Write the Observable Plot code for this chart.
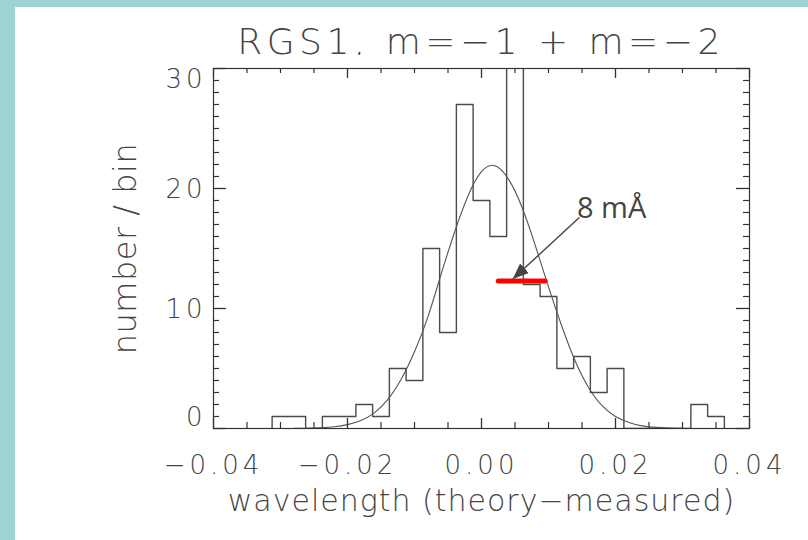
<!DOCTYPE html>
<html><head><meta charset="utf-8">
<script src="https://cdn.jsdelivr.net/npm/d3@7"></script>
<script src="https://cdn.jsdelivr.net/npm/@observablehq/plot@0.6"></script>
<style>
html,body{margin:0;padding:0;}
body{width:808px;height:540px;background:#9fd3d4;position:relative;overflow:hidden;}
#panel{position:absolute;left:15px;top:7px;width:793px;height:533px;background:#fff;}
#title{position:absolute;left:66px;width:800px;top:17px;text-align:center;font-family:"DejaVu Sans";font-weight:200;font-size:36px;letter-spacing:4.5px;color:#444;line-height:36px;white-space:nowrap;}
#chart{position:absolute;left:0;top:48px;}
</style></head><body>
<div id="panel"><div id="title"></div><div id="chart"></div></div>
<script>
// ---- data ----
const title = "RGS1, m=\u22121 + m=\u22122";
const xLabel = "wavelength (theory\u2212measured)";
const yLabel = "number / bin";

const binWidth = 0.0025;
const binCenters = [-0.0300,-0.0275,-0.0250,-0.0225,-0.0200,-0.0175,-0.0150,-0.0125,-0.0100,-0.0075,-0.0050,-0.0025,
  0.0000,0.0025,0.0050,0.0075,0.0100,0.0125,0.0150,0.0175,0.0200,0.0225,0.0250,0.0275,0.0300,0.0325,0.0350];
const binCounts = [1,1,0,1,1,2,1,5,4,15,8,27,19,16,31,12,11,5,6,3,5,0,0,0,0,2,1];

const curveX = [-0.028,-0.026,-0.024,-0.022,-0.020,-0.018,-0.016,-0.014,-0.012,-0.010,-0.008,-0.006,-0.004,-0.002,
  0.000,0.002,0.004,0.006,0.008,0.010,0.012,0.014,0.016,0.018,0.020,0.022,0.024,0.026,0.028,0.030];
const curveY = [0.01,0.02,0.06,0.14,0.32,0.66,1.3,2.4,4.1,6.4,9.3,12.9,16.4,19.4,
  21.4,21.9,20.8,18.5,15.3,11.8,8.5,5.6,3.4,1.9,1.0,0.5,0.22,0.09,0.04,0.01];

const xTicks = [-0.04,-0.02,0,0.02,0.04];
const xTickLabels = ["\u22120.04","\u22120.02","0.00","0.02","0.04"];
const xMinorTicks = [-0.035,-0.03,-0.025,-0.015,-0.01,-0.005,0.005,0.01,0.015,0.025,0.03,0.035];
const yTicks = [0,10,20,30];
const yTickLabels = ["0","10","20","30"];
const yMinorTicks = [1,2,3,4,5,6,7,8,9,11,12,13,14,15,16,17,18,19,21,22,23,24,25,26,27,28,29];

const widthBarX = [0.0025, 0.0095];
const widthBarY = [12.3];
const annotationText = ["8 m\u00C5"];
const annotationX = [0.01425];
const annotationY = [17.56];
const arrowX = [0.0146, 0.00466];
const arrowY = [17.58, 12.45];

// ---- derived tables ----
const steps = [{x: binCenters[0] - binWidth / 2, y: 0}];
binCenters.forEach((c, i) => steps.push({x: c - binWidth / 2, y: binCounts[i]}));
steps.push({x: binCenters[binCenters.length - 1] + binWidth / 2, y: 0});
const curve = curveX.map((x, i) => ({x, y: curveY[i]}));
const bar = [{x1: widthBarX[0], x2: widthBarX[1], y: widthBarY[0]}];
const arrow = [{x1: arrowX[0], y1: arrowY[0], x2: arrowX[1], y2: arrowY[1]}];
const note = [{x: annotationX[0], y: annotationY[0], t: annotationText[0]}];

const W = 793, H = 485, mT = 13, mB = 112, mL = 198, mR = 59;
const fw = W - mL - mR, fh = H - mT - mB;
const ink = "#333";
const yFmt = d => yTickLabels[yTicks.indexOf(d)];
const xFmt = d => xTickLabels[xTicks.indexOf(d)];

document.getElementById("title").textContent = title;

const chart = Plot.plot({
  width: W, height: H,
  marginTop: mT, marginBottom: mB, marginLeft: mL, marginRight: mR,
  style: {fontFamily: "DejaVu Sans", fontSize: "26px", fontWeight: 200, letterSpacing: "4px", color: "#444", background: "white"},
  x: {domain: [-0.04, 0.04], label: null},
  y: {domain: [0, 30], label: null},
  marks: [
    Plot.line(steps, {x: "x", y: "y", curve: "step-after", stroke: "#4a4a4a", strokeWidth: 1.4, clip: true}),
    Plot.line(curve, {x: "x", y: "y", curve: "natural", stroke: "#555", strokeWidth: 1.1, clip: true}),
    Plot.frame({stroke: ink, strokeWidth: 1.2}),
    // inward ticks on four sides
    Plot.tickX(xTicks, {x: d => d, insetTop: fh - 10, stroke: ink, strokeWidth: 1.3}),
    Plot.tickX(xMinorTicks, {x: d => d, insetTop: fh - 6, stroke: ink, strokeWidth: 1.2}),
    Plot.tickX(xTicks, {x: d => d, insetBottom: fh - 10, stroke: ink, strokeWidth: 1.3}),
    Plot.tickX(xMinorTicks, {x: d => d, insetBottom: fh - 5, stroke: ink, strokeWidth: 1.2}),
    Plot.tickY(yTicks, {y: d => d, insetRight: fw - 13, stroke: ink, strokeWidth: 1.3}),
    Plot.tickY(yMinorTicks, {y: d => d, insetRight: fw - 6, stroke: ink, strokeWidth: 1.2}),
    Plot.tickY(yTicks, {y: d => d, insetLeft: fw - 13, stroke: ink, strokeWidth: 1.3}),
    Plot.tickY(yMinorTicks, {y: d => d, insetLeft: fw - 6, stroke: ink, strokeWidth: 1.2}),
    // tick labels
    Plot.axisX(xTicks, {anchor: "bottom", tickSize: 0, tickPadding: 27, tickFormat: xFmt, fill: "#444"}),
    Plot.axisY([0], {anchor: "left", tickSize: 0, tickPadding: 7, dy: -11, tickFormat: yFmt, fill: "#444"}),
    Plot.axisY([10, 20], {anchor: "left", tickSize: 0, tickPadding: 7, dy: 1, tickFormat: yFmt, fill: "#444"}),
    Plot.axisY([30], {anchor: "left", tickSize: 0, tickPadding: 7, dy: 11, tickFormat: yFmt, fill: "#444"}),
    // axis titles
    Plot.text([xLabel], {frameAnchor: "bottom", lineAnchor: "bottom", textAnchor: "middle", dy: 82, fontSize: 30, fill: "#444"}),
    Plot.text([yLabel], {frameAnchor: "left", lineAnchor: "bottom", textAnchor: "middle", rotate: -90, dx: -78, fontSize: 32, fill: "#444"}),
    // annotation
    Plot.link(bar, {x1: "x1", x2: "x2", y1: "y", y2: "y", stroke: "#f00", strokeWidth: 5, strokeLinecap: "round"}),
    Plot.link(arrow, {x1: "x1", y1: "y1", x2: "x2", y2: "y2", stroke: "#444", strokeWidth: 1.4, markerEnd: "arrow"}),
    Plot.text(note, {x: "x", y: "y", text: "t", textAnchor: "start", lineAnchor: "bottom", fontSize: 29, fontFamily: "Open Sans", fontWeight: 400, fill: "#444"})
  ]
});

// filled arrowhead; per-text letter spacing
d3.select(chart).selectAll("marker").each(function() {
  const m = d3.select(this);
  m.attr("viewBox", "-16 -7 17 14").attr("markerWidth", 17).attr("markerHeight", 14)
   .attr("markerUnits", "userSpaceOnUse").attr("fill", "#444").attr("stroke", "none");
  m.selectAll("path").attr("d", "M-16,-6.5L0,0L-16,6.5Z");
});
const spacing = new Map([[annotationText[0], "0px"], [yLabel, "0.5px"], [xLabel, "1px"]]);
d3.select(chart).selectAll("text").each(function() {
  if (spacing.has(this.textContent)) this.style.letterSpacing = spacing.get(this.textContent);
});
document.getElementById("chart").appendChild(chart);
</script>
</body></html>
